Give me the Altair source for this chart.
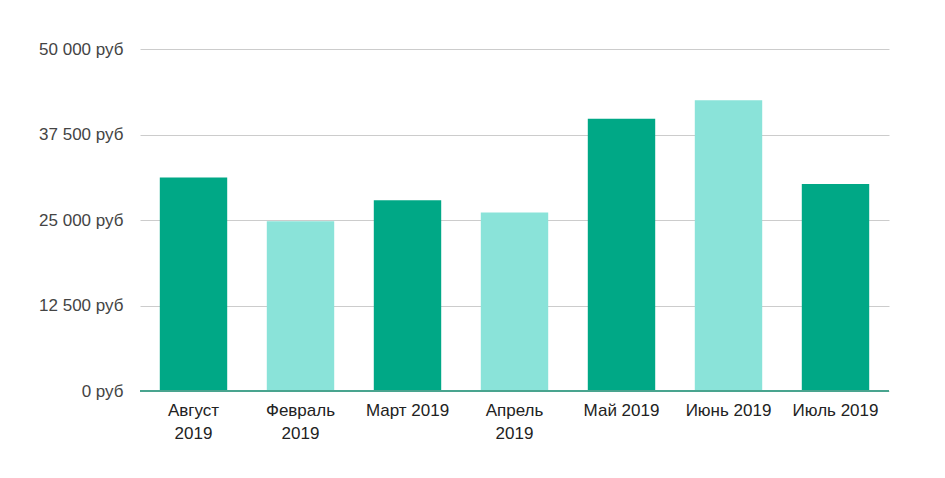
import altair as alt
import pandas as pd

months = ["Август 2019", "Февраль 2019", "Март 2019", "Апрель 2019", "Май 2019", "Июнь 2019", "Июль 2019"]
values = [31200, 24800, 27900, 26100, 39800, 42500, 30250]
shade = ["dark", "light", "dark", "light", "dark", "light", "dark"]

df = pd.DataFrame({"month": months, "value": values, "shade": shade})

base = alt.Chart(df)

bars = base.mark_bar().encode(
    x=alt.X("month:N", sort=months, title=None,
            scale=alt.Scale(paddingInner=0.37, paddingOuter=0.185),
            axis=alt.Axis(labelAngle=0, domain=False, ticks=False, labelPadding=11,
                          labelFont="Liberation Sans", labelFontSize=17, labelColor="#222222",
                          labelLineHeight=23,
                          labelExpr="length(datum.label) > 10 ? split(datum.label, ' ') : datum.label")),
    y=alt.Y("value:Q", title=None,
            scale=alt.Scale(domain=[0, 50000], nice=False),
            axis=alt.Axis(values=[0, 12500, 25000, 37500, 50000], domain=False, ticks=False,
                          labelPadding=17, labelFont="Liberation Sans", labelFontSize=17,
                          labelColor="#444444", gridColor="#cccccc",
                          labelExpr="replace(format(datum.value, ',d'), ',', ' ') + ' руб'")),
    color=alt.Color("shade:N", scale=alt.Scale(domain=["dark", "light"], range=["#00a886", "#8ae3d9"]), legend=None),
)

zero = base.mark_rule(color="#4aa58f", strokeWidth=1.5).encode(y=alt.datum(0))

chart = alt.layer(bars, zero).properties(
    width=749, height=342,
    autosize=alt.AutoSizeParams(type="none"),
    padding={"left": 132, "top": 41, "right": 40, "bottom": 70},
).configure_view(stroke=None)

chart.save("out.html", embed_options={"renderer": "svg", "actions": False})
